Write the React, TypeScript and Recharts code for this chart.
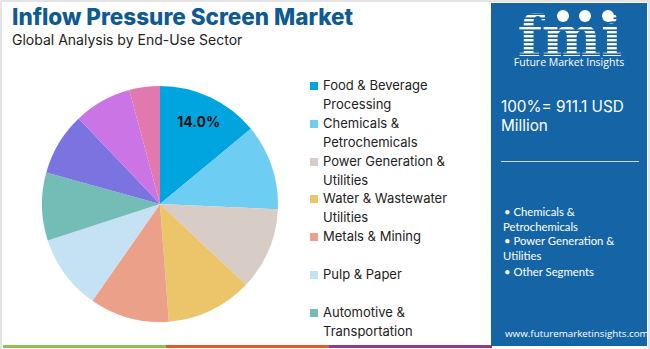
import React from 'react';
import { PieChart, Pie, Cell, Legend } from 'recharts';

const categories = [
  'Food & Beverage Processing',
  'Chemicals & Petrochemicals',
  'Power Generation & Utilities',
  'Water & Wastewater Utilities',
  'Metals & Mining',
  'Pulp & Paper',
  'Automotive & Transportation',
  'Pharmaceuticals',
  'Marine & Shipbuilding',
  'Others',
];
const shares = [14.0, 11.7, 11.3, 11.8, 10.9, 10.3, 9.3, 8.6, 7.9, 4.2];
const colors = [
  '#00a5df', '#6dcdf2', '#d8ccc7', '#ecc56a', '#eba189',
  '#c5e2f4', '#74bdb7', '#7a73e0', '#cb74e6', '#e178ae',
];
const legendVisibleCount = 7;
const titleText = 'Inflow Pressure Screen Market';
const subtitleText = 'Global Analysis by End-Use Sector';
const totalLines = ['100%= 911.1 USD', 'Million'];
const panelBullets = [
  ['• Chemicals &', 'Petrochemicals'],
  ['• Power Generation &', 'Utilities'],
  ['• Other Segments'],
];
const siteText = 'www.futuremarketinsights.com';
const bottomBar = ['#8dc152', '#e4582e', '#8e3b8f'];

const data = categories.map((name, i) => ({ name, value: shares[i] }));

const renderLabel = (props: any) => {
  const { cx, cy, midAngle, outerRadius, index, value } = props;
  if (index !== 0) return null;
  const RAD = Math.PI / 180;
  const r = outerRadius * 0.77;
  const x = cx + r * Math.cos(-midAngle * RAD);
  const y = cy + r * Math.sin(-midAngle * RAD);
  return (
    <text x={x} y={y} textAnchor="middle" dominantBaseline="central"
      fontFamily="Inter, sans-serif" fontWeight={700} fontSize={14} fill="#111">
      {Number(value).toFixed(1)}%
    </text>
  );
};

const LegendContent = () => (
  <div style={{ fontFamily: 'Inter, sans-serif', fontSize: 13, color: '#222' }}>
    {categories.slice(0, legendVisibleCount).map((c, i) => (
      <div key={c} style={{ display: 'flex', alignItems: 'flex-start', height: 37.8 }}>
        <div style={{ width: 8, height: 8, background: colors[i], marginTop: 6, marginRight: 5, flexShrink: 0 }} />
        <div style={{ lineHeight: '19px', width: 150 }}>{c}</div>
      </div>
    ))}
  </div>
);

const Logo = () => (
  <>
    <svg width={156} height={74} style={{ position: 'absolute', left: 0, top: 0 }}>
      <defs>
        <pattern id="stripes" width="4" height="4" patternUnits="userSpaceOnUse">
          <rect width="4" height="2.6" fill="#ffffff" />
          <rect y="2.6" width="4" height="1.4" fill="#1565a6" />
        </pattern>
      </defs>
      <text x={79} y={53} textAnchor="middle" fontFamily="'DejaVu Serif', serif" fontWeight={700}
        fontSize={56} fill="url(#stripes)">fmi</text>
      <circle cx={72} cy={13} r={6} fill="#fff" />
      <circle cx={94} cy={13} r={6} fill="#fff" />
      <circle cx={117} cy={13} r={6} fill="#fff" />
    </svg>
    <div style={{ position: 'absolute', left: 0, top: 53, width: 156, textAlign: 'center',
      fontFamily: "'Open Sans', sans-serif", fontSize: 10.5, lineHeight: '13px', whiteSpace: 'nowrap' }}>
      Future Market Insights
    </div>
  </>
);

export default function App() {
  return (
    <div style={{ position: 'fixed', left: 0, top: 0, width: 650, height: 349, background: '#fff', overflow: 'hidden' }}>
      <div style={{ position: 'absolute', left: 0, top: 0, width: 650, height: 2, background: '#e4e4e4' }} />
      <div style={{ position: 'absolute', left: 0, top: 0, width: 2, height: 349, background: '#e4e4e4' }} />
      <div style={{ position: 'absolute', right: 0, top: 0, width: 2, height: 349, background: '#e4e4e4' }} />
      <div style={{ position: 'absolute', left: 12, top: 2, fontFamily: 'Inter, sans-serif', fontWeight: 800,
        fontSize: 22.5, color: '#0e5a93', whiteSpace: 'nowrap', lineHeight: '30px' }}>{titleText}</div>
      <div style={{ position: 'absolute', left: 12, top: 30, fontFamily: 'Inter, sans-serif',
        fontSize: 14, color: '#222', whiteSpace: 'nowrap', lineHeight: '20px' }}>{subtitleText}</div>

      <PieChart width={650} height={349} style={{ position: 'absolute', left: 0, top: 0 }}>
        <Pie data={data} dataKey="value" nameKey="name" cx={155} cy={199} outerRadius={118}
          startAngle={90} endAngle={-270} stroke="none" label={renderLabel} labelLine={false}
          isAnimationActive={false}>
          {data.map((d, i) => <Cell key={d.name} fill={colors[i]} />)}
        </Pie>
        <Legend content={<LegendContent />}
          wrapperStyle={{ position: 'absolute', left: 310, top: 76, width: 175, height: 264, overflow: 'hidden' }} />
      </PieChart>

      <div style={{ position: 'absolute', left: 491, top: 3, width: 156, height: 343, background: '#1565a6', color: '#fff' }}>
        <Logo />
        <div style={{ position: 'absolute', left: 10, top: 94, fontFamily: 'Inter, sans-serif', fontSize: 15.3,
          lineHeight: '19px', whiteSpace: 'nowrap' }}>
          {totalLines.map(t => <div key={t}>{t}</div>)}
        </div>
        <div style={{ position: 'absolute', left: 10, top: 158, width: 138, height: 1, background: '#c9dcec' }} />
        <div style={{ position: 'absolute', left: 13, top: 202, fontFamily: 'Lato, sans-serif', fontSize: 11.3,
          lineHeight: '14.5px', whiteSpace: 'nowrap' }}>
          {panelBullets.map((b, i) => (
            <div key={i} style={{ marginBottom: i === 1 ? 2 : 0 }}>
              {b.map((l, j) => <div key={j} style={{ marginLeft: j > 0 ? -1 : 0 }}>{l}</div>)}
            </div>
          ))}
        </div>
        <div style={{ position: 'absolute', left: 14, top: 324, fontFamily: "'Open Sans', sans-serif", fontSize: 9.8,
          lineHeight: '14px', whiteSpace: 'nowrap' }}>{siteText}</div>
      </div>

      {bottomBar.map((c, i) => (
        <div key={c} style={{ position: 'absolute', left: 3 + i * 163, top: 345, width: 163, height: 3, background: c }} />
      ))}
    </div>
  );
}
